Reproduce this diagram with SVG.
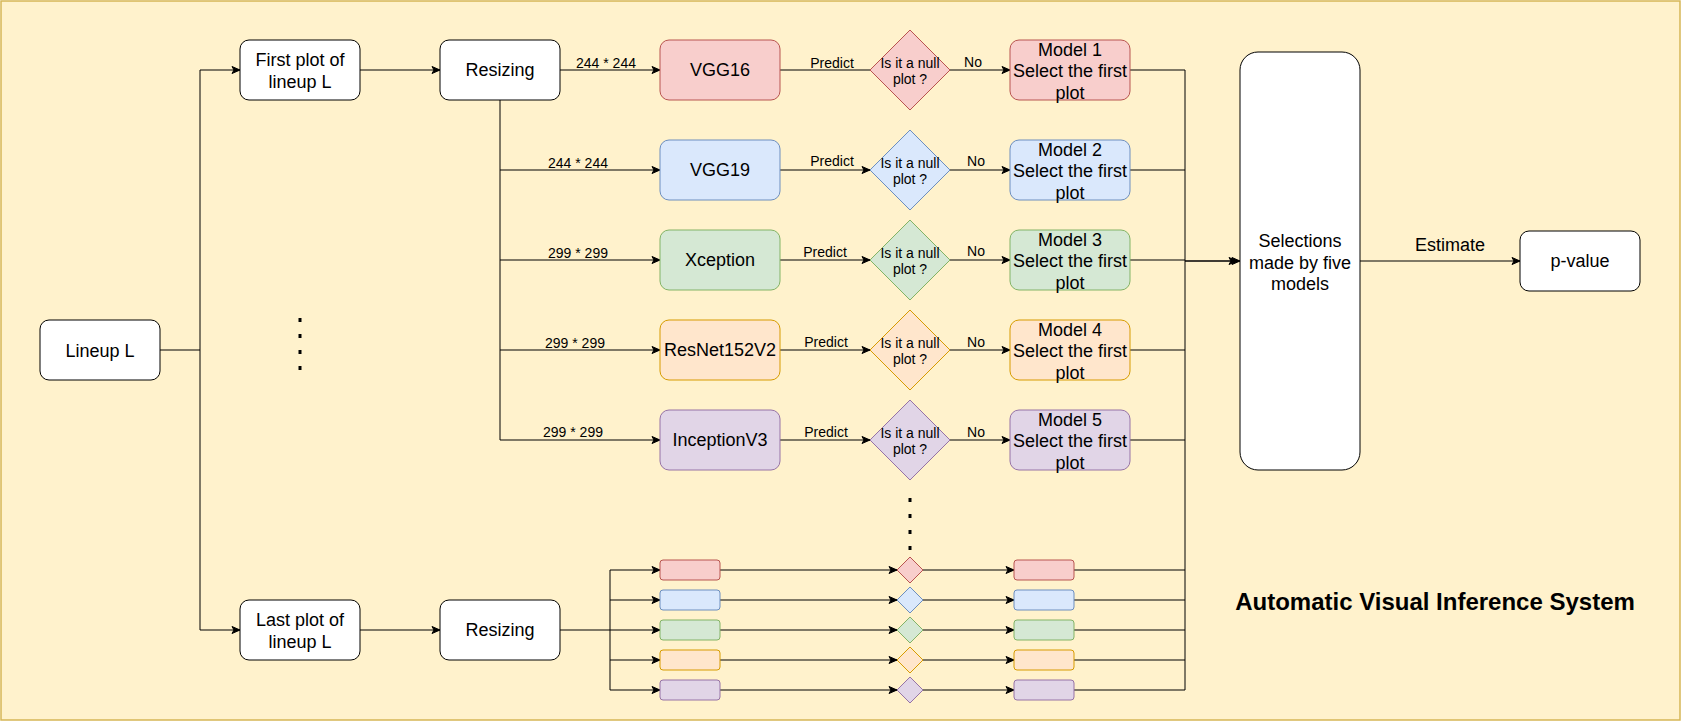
<svg xmlns="http://www.w3.org/2000/svg" width="1682" height="722" viewBox="0 0 1682 722">
<defs>
<marker id="arr" markerUnits="userSpaceOnUse" markerWidth="10" markerHeight="10" viewBox="0 0 10 10" refX="9" refY="5" orient="auto">
<path d="M1,1.5 L9,5 L1,8.5 L3,5 Z" fill="#000" stroke="#000" stroke-width="1"/>
</marker>
<style>
text{font-family:"Liberation Sans",Arial,Helvetica,sans-serif;fill:#000;text-anchor:middle}
.t18{font-size:18px}
.t14{font-size:14px}
.ttl{font-size:24px;font-weight:bold}
.w{fill:#fff;stroke:#000;stroke-width:1}
.red{fill:#f8cecc;stroke:#b85450;stroke-width:1}
.blue{fill:#dae8fc;stroke:#6c8ebf;stroke-width:1}
.green{fill:#d5e8d4;stroke:#82b366;stroke-width:1}
.orange{fill:#ffe6cc;stroke:#d79b00;stroke-width:1}
.purple{fill:#e1d5e7;stroke:#9673a6;stroke-width:1}
.e{fill:none;stroke:#000;stroke-width:1}
.ea{fill:none;stroke:#000;stroke-width:1;marker-end:url(#arr)}
.dot{fill:#000}
</style>
</defs>
<rect id="background" x="1" y="1" width="1679" height="719" fill="#fff2cc" stroke="#d6b656" stroke-width="1.5"/>

<g id="connectors">
<path class="e" d="M160,350 H200 M200,70 V630"/>
<path class="ea" d="M200,70 H240"/>
<path class="ea" d="M200,630 H240"/>
<path class="ea" d="M360,70 H440"/>
<path class="ea" d="M360,630 H440"/>
<path class="ea" d="M560,70 H660"/>
<path class="e" d="M500,100 V440"/>
<path class="ea" d="M500,170 H660"/>
<path class="ea" d="M500,260 H660"/>
<path class="ea" d="M500,350 H660"/>
<path class="ea" d="M500,440 H660"/>
<path class="e" d="M780,70 H870"/>
<path class="ea" d="M780,170 H870"/>
<path class="ea" d="M780,260 H870"/>
<path class="ea" d="M780,350 H870"/>
<path class="ea" d="M780,440 H870"/>
<path class="ea" d="M950,70 H1010"/>
<path class="ea" d="M950,170 H1010"/>
<path class="ea" d="M950,260 H1010"/>
<path class="ea" d="M950,350 H1010"/>
<path class="ea" d="M950,440 H1010"/>
<path class="e" d="M1130,70 H1185 M1130,170 H1185 M1130,260 H1185 M1130,350 H1185 M1130,440 H1185"/>
<path class="e" d="M1185,70 V690"/>
<path class="e" d="M560,630 H610 M610,570 V690"/>
<path class="ea" d="M610,570 H660"/>
<path class="ea" d="M610,600 H660"/>
<path class="ea" d="M610,630 H660"/>
<path class="ea" d="M610,660 H660"/>
<path class="ea" d="M610,690 H660"/>
<path class="ea" d="M720,570 H897"/>
<path class="ea" d="M720,600 H897"/>
<path class="ea" d="M720,630 H897"/>
<path class="ea" d="M720,660 H897"/>
<path class="ea" d="M720,690 H897"/>
<path class="ea" d="M923,570 H1014"/>
<path class="ea" d="M923,600 H1014"/>
<path class="ea" d="M923,630 H1014"/>
<path class="ea" d="M923,660 H1014"/>
<path class="ea" d="M923,690 H1014"/>
<path class="e" d="M1074,570 H1185 M1074,600 H1185 M1074,630 H1185 M1074,660 H1185 M1074,690 H1185"/>
<path class="ea" d="M1185,261 H1237" stroke-width="1.5"/>
<path class="ea" d="M1185,261 H1240" stroke-width="1.5"/>
<path class="ea" d="M1360,261 H1520"/>
<text class="t14" x="606" y="68">244 * 244</text>
<text class="t14" x="578" y="168">244 * 244</text>
<text class="t14" x="578" y="258">299 * 299</text>
<text class="t14" x="575" y="348">299 * 299</text>
<text class="t14" x="573" y="437">299 * 299</text>
<text class="t14" x="832" y="68">Predict</text>
<text class="t14" x="832" y="166">Predict</text>
<text class="t14" x="825" y="257">Predict</text>
<text class="t14" x="826" y="347">Predict</text>
<text class="t14" x="826" y="437">Predict</text>
<text class="t14" x="973" y="67">No</text>
<text class="t14" x="976" y="166">No</text>
<text class="t14" x="976" y="256">No</text>
<text class="t14" x="976" y="347">No</text>
<text class="t14" x="976" y="437">No</text>
<text class="t18" x="1450" y="251">Estimate</text>
</g>

<g id="lineup">
<rect class="w" x="40" y="320" width="120" height="60" rx="9"/>
<text class="t18" x="100" y="357">Lineup L</text>
</g>
<g id="first-plot">
<rect class="w" x="240" y="40" width="120" height="60" rx="9"/>
<text class="t18" x="300" y="66">First plot of</text>
<text class="t18" x="300" y="88">lineup L</text>
</g>
<g id="last-plot">
<rect class="w" x="240" y="600" width="120" height="60" rx="9"/>
<text class="t18" x="300" y="626">Last plot of</text>
<text class="t18" x="300" y="648">lineup L</text>
</g>
<g id="resizing-1">
<rect class="w" x="440" y="40" width="120" height="60" rx="9"/>
<text class="t18" x="500" y="76">Resizing</text>
</g>
<g id="resizing-2">
<rect class="w" x="440" y="600" width="120" height="60" rx="9"/>
<text class="t18" x="500" y="636">Resizing</text>
</g>

<g id="dots-left">
<rect class="dot" x="298.5" y="318" width="3" height="4"/>
<rect class="dot" x="298.5" y="334" width="3" height="4"/>
<rect class="dot" x="298.5" y="350" width="3" height="4"/>
<rect class="dot" x="298.5" y="366" width="3" height="4"/>
</g>
<g id="dots-middle">
<rect class="dot" x="908.5" y="498" width="3" height="4"/>
<rect class="dot" x="908.5" y="514" width="3" height="4"/>
<rect class="dot" x="908.5" y="530" width="3" height="4"/>
<rect class="dot" x="908.5" y="546" width="3" height="4"/>
</g>

<g id="vgg16">
<rect class="red" x="660" y="40" width="120" height="60" rx="9"/>
<text class="t18" x="720" y="76">VGG16</text>
</g>
<g id="vgg19">
<rect class="blue" x="660" y="140" width="120" height="60" rx="9"/>
<text class="t18" x="720" y="176">VGG19</text>
</g>
<g id="xception">
<rect class="green" x="660" y="230" width="120" height="60" rx="9"/>
<text class="t18" x="720" y="266">Xception</text>
</g>
<g id="resnet">
<rect class="orange" x="660" y="320" width="120" height="60" rx="9"/>
<text class="t18" x="720" y="356">ResNet152V2</text>
</g>
<g id="inception">
<rect class="purple" x="660" y="410" width="120" height="60" rx="9"/>
<text class="t18" x="720" y="446">InceptionV3</text>
</g>

<g id="null-1">
<polygon class="red" points="910,30 950,70 910,110 870,70"/>
<text class="t14" x="910" y="68">Is it a null</text>
<text class="t14" x="910" y="84">plot ?</text>
</g>
<g id="null-2">
<polygon class="blue" points="910,130 950,170 910,210 870,170"/>
<text class="t14" x="910" y="168">Is it a null</text>
<text class="t14" x="910" y="184">plot ?</text>
</g>
<g id="null-3">
<polygon class="green" points="910,220 950,260 910,300 870,260"/>
<text class="t14" x="910" y="258">Is it a null</text>
<text class="t14" x="910" y="274">plot ?</text>
</g>
<g id="null-4">
<polygon class="orange" points="910,310 950,350 910,390 870,350"/>
<text class="t14" x="910" y="348">Is it a null</text>
<text class="t14" x="910" y="364">plot ?</text>
</g>
<g id="null-5">
<polygon class="purple" points="910,400 950,440 910,480 870,440"/>
<text class="t14" x="910" y="438">Is it a null</text>
<text class="t14" x="910" y="454">plot ?</text>
</g>

<g id="model-1">
<rect class="red" x="1010" y="40" width="120" height="60" rx="9"/>
<text class="t18" x="1070" y="56">Model 1</text>
<text class="t18" x="1070" y="77">Select the first</text>
<text class="t18" x="1070" y="98.5">plot</text>
</g>
<g id="model-2">
<rect class="blue" x="1010" y="140" width="120" height="60" rx="9"/>
<text class="t18" x="1070" y="156">Model 2</text>
<text class="t18" x="1070" y="177">Select the first</text>
<text class="t18" x="1070" y="198.5">plot</text>
</g>
<g id="model-3">
<rect class="green" x="1010" y="230" width="120" height="60" rx="9"/>
<text class="t18" x="1070" y="246">Model 3</text>
<text class="t18" x="1070" y="267">Select the first</text>
<text class="t18" x="1070" y="288.5">plot</text>
</g>
<g id="model-4">
<rect class="orange" x="1010" y="320" width="120" height="60" rx="9"/>
<text class="t18" x="1070" y="336">Model 4</text>
<text class="t18" x="1070" y="357">Select the first</text>
<text class="t18" x="1070" y="378.5">plot</text>
</g>
<g id="model-5">
<rect class="purple" x="1010" y="410" width="120" height="60" rx="9"/>
<text class="t18" x="1070" y="426">Model 5</text>
<text class="t18" x="1070" y="447">Select the first</text>
<text class="t18" x="1070" y="468.5">plot</text>
</g>

<g id="small-models">
<rect class="red" x="660" y="560" width="60" height="20" rx="3"/>
<rect class="blue" x="660" y="590" width="60" height="20" rx="3"/>
<rect class="green" x="660" y="620" width="60" height="20" rx="3"/>
<rect class="orange" x="660" y="650" width="60" height="20" rx="3"/>
<rect class="purple" x="660" y="680" width="60" height="20" rx="3"/>
</g>
<g id="small-decisions">
<polygon class="red" points="910,557 923,570 910,583 897,570"/>
<polygon class="blue" points="910,587 923,600 910,613 897,600"/>
<polygon class="green" points="910,617 923,630 910,643 897,630"/>
<polygon class="orange" points="910,647 923,660 910,673 897,660"/>
<polygon class="purple" points="910,677 923,690 910,703 897,690"/>
</g>
<g id="small-selections">
<rect class="red" x="1014" y="560" width="60" height="20" rx="3"/>
<rect class="blue" x="1014" y="590" width="60" height="20" rx="3"/>
<rect class="green" x="1014" y="620" width="60" height="20" rx="3"/>
<rect class="orange" x="1014" y="650" width="60" height="20" rx="3"/>
<rect class="purple" x="1014" y="680" width="60" height="20" rx="3"/>
</g>

<g id="selections">
<rect class="w" x="1240" y="52" width="120" height="418" rx="18"/>
<text class="t18" x="1300" y="247">Selections</text>
<text class="t18" x="1300" y="268.5">made by five</text>
<text class="t18" x="1300" y="290">models</text>
</g>
<g id="p-value">
<rect class="w" x="1520" y="231" width="120" height="60" rx="9"/>
<text class="t18" x="1580" y="267">p-value</text>
</g>
<g id="title">
<text class="ttl" x="1435" y="610">Automatic Visual Inference System</text>
</g>
</svg>
